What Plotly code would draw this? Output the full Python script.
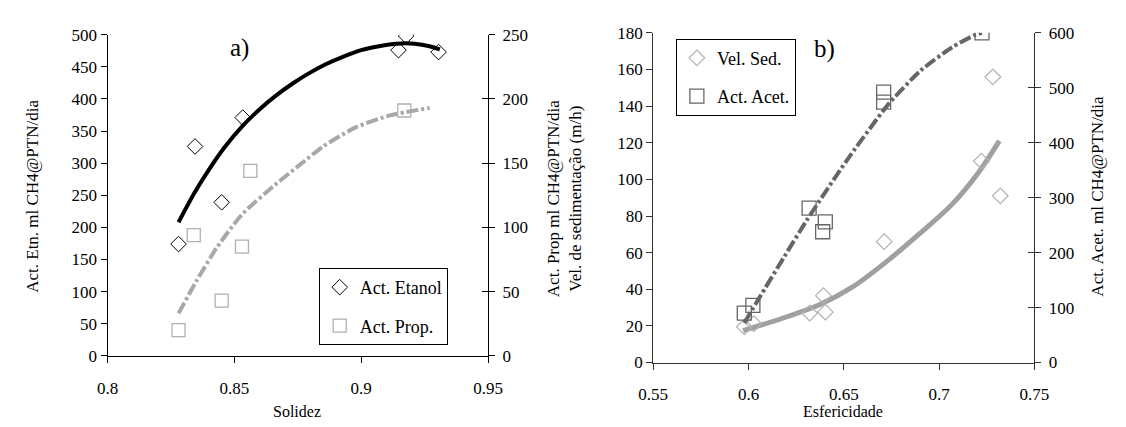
import plotly.graph_objects as go

# ---------- Panel a) data ----------
etanol_x = [0.828, 0.8345, 0.845, 0.8533, 0.9147, 0.9177, 0.9305]
etanol_y = [174, 326, 239, 371, 476, 498, 473]
prop_x = [0.828, 0.834, 0.845, 0.853, 0.8563, 0.917]
prop_y = [20, 94, 43, 85, 144, 191]

etanol_fit_x = [0.828, 0.834, 0.840, 0.846, 0.853, 0.860, 0.866, 0.873, 0.879, 0.886,
                0.893, 0.900, 0.907, 0.914, 0.921, 0.927, 0.931]
etanol_fit_y = [208, 252, 290, 324, 357, 384, 404, 424, 439, 454,
                466, 476, 482, 486, 486, 482, 477]
prop_fit_x = [0.828, 0.835, 0.843, 0.853, 0.866, 0.876, 0.885, 0.898, 0.911, 0.927]
prop_fit_y = [33, 58, 84, 110, 133, 149, 163, 178, 187, 193]

# ---------- Panel b) data ----------
vel_x = [0.5978, 0.6028, 0.6321, 0.6393, 0.6403, 0.6712, 0.7222, 0.7282, 0.7321]
vel_y = [19.5, 21.2, 27, 36.5, 27.5, 66, 110, 156, 91]
acet_x = [0.5978, 0.6023, 0.6318, 0.6389, 0.6403, 0.6709, 0.6709, 0.7225]
acet_y = [90, 104, 281, 238, 256, 492, 474, 600]

vel_fit_x = [0.5972, 0.6202, 0.6372, 0.6542, 0.6729, 0.6899, 0.7069, 0.7205, 0.7316]
vel_fit_y = [17.4, 25.0, 31.5, 41.0, 55.5, 70.5, 86.5, 103.5, 121.0]
acet_fit_x = [0.5978, 0.6057, 0.6185, 0.6304, 0.6508, 0.6729, 0.6899, 0.7069, 0.7188, 0.7225]
acet_fit_y = [72, 118, 191, 258, 364, 468, 530, 574, 596, 600]

FONT = "Liberation Serif, Times New Roman, serif"
W, H = 1126, 427

fig = go.Figure()

# panel a
fig.add_trace(go.Scatter(x=etanol_fit_x, y=etanol_fit_y, mode="lines",
                         line=dict(color="black", width=4, shape="spline", smoothing=0.6),
                         xaxis="x", yaxis="y", showlegend=False, hoverinfo="skip"))
fig.add_trace(go.Scatter(x=prop_fit_x, y=prop_fit_y, mode="lines",
                         line=dict(color="#a8a8a8", width=4, shape="spline", smoothing=0.6,
                                   dash="12px,3px,3px,3px"),
                         xaxis="x", yaxis="y2", showlegend=False, hoverinfo="skip"))
fig.add_trace(go.Scatter(x=etanol_x, y=etanol_y, mode="markers", name="Act. Etanol",
                         marker=dict(symbol="diamond-open", size=12, color="black", line=dict(width=1)),
                         xaxis="x", yaxis="y", legend="legend", legendgroup="g1"))
fig.add_trace(go.Scatter(x=prop_x, y=prop_y, mode="markers", name="Act. Prop.",
                         marker=dict(symbol="square-open", size=13, color="#b0b0b0", line=dict(width=1.3)),
                         xaxis="x", yaxis="y2", legend="legend", legendgroup="g2"))

# panel b
fig.add_trace(go.Scatter(x=vel_fit_x, y=vel_fit_y, mode="lines",
                         line=dict(color="#a0a0a0", width=5, shape="spline", smoothing=1.0),
                         xaxis="x2", yaxis="y3", showlegend=False, hoverinfo="skip"))
fig.add_trace(go.Scatter(x=acet_fit_x, y=acet_fit_y, mode="lines",
                         line=dict(color="#666666", width=4, shape="spline", smoothing=0.6,
                                   dash="12px,3px,3px,3px"),
                         xaxis="x2", yaxis="y4", showlegend=False, hoverinfo="skip"))
fig.add_trace(go.Scatter(x=vel_x, y=vel_y, mode="markers", name="Vel. Sed.",
                         marker=dict(symbol="diamond-open", size=12, color="#b0b0b0", line=dict(width=1.2)),
                         xaxis="x2", yaxis="y3", legend="legend2", legendgroup="g3"))
fig.add_trace(go.Scatter(x=acet_x, y=acet_y, mode="markers", name="Act. Acet.",
                         marker=dict(symbol="square-open", size=14, color="#666666", line=dict(width=1.3)),
                         xaxis="x2", yaxis="y4", legend="legend2", legendgroup="g4"))

# helper empty traces for inside ticks on right axes (ticks crossing the axis)
fig.add_trace(go.Scatter(x=[None], y=[None], xaxis="x", yaxis="y5", showlegend=False, hoverinfo="skip"))
fig.add_trace(go.Scatter(x=[None], y=[None], xaxis="x2", yaxis="y6", showlegend=False, hoverinfo="skip"))

tickfont = dict(family=FONT, size=17, color="black")
common = dict(showgrid=False, zeroline=False, showline=True, linewidth=1, ticks="outside", ticklen=6,
              tickwidth=1, tickfont=tickfont)


def px(x, y):
    return x / W, 1 - y / H


anns = []
for txt, x, y, size, ang in [
    ("a)", 231, 41, 25, 0),
    ("b)", 832, 42, 25, 0),
    ("Solidez", 290, 421, 16, 0),
    ("Esfericidade", 851, 421, 16, 0),
    ("Act. Etn. ml CH4@PTN/dia", 18, 196, 17, -90),
    ("Act. Prop ml CH4@PTN/dia<br>Vel. de sedimentação (m/h)", 564, 198, 17, -90),
    ("Act. Acet. ml CH4@PTN/dia", 1112, 196, 17, -90),
]:
    xx, yy = px(x, y)
    anns.append(dict(text=txt, x=xx, y=yy, xref="paper", yref="paper", showarrow=False,
                     textangle=ang, xanchor="center", yanchor="middle",
                     font=dict(family=FONT, size=size, color="black")))

fig.update_layout(
    width=W, height=H, margin=dict(l=0, r=0, t=0, b=0),
    paper_bgcolor="white", plot_bgcolor="white",
    font=dict(family=FONT, size=17, color="black"),
    xaxis=dict(domain=[0.0844, 0.4316], range=[0.8, 0.95], dtick=0.05, tick0=0.8, anchor="y",
               linecolor="black", tickcolor="black", ticklabelstandoff=11, **common),
    yaxis=dict(domain=[0.150, 0.937], range=[0, 500], dtick=50, anchor="x",
               linecolor="black", tickcolor="black", **common),
    yaxis2=dict(range=[0, 250], dtick=50, overlaying="y", side="right", anchor="x",
                linecolor="black", tickcolor="black", ticklabelstandoff=4, **common),
    yaxis5=dict(range=[0, 250], dtick=50, overlaying="y", side="right", anchor="x", showgrid=False,
                zeroline=False, showline=False, ticks="inside", ticklen=6, tickcolor="black",
                showticklabels=False),
    xaxis2=dict(domain=[0.5823, 0.9301], range=[0.55, 0.75], dtick=0.05, tick0=0.55, anchor="y3",
                linecolor="#333333", tickcolor="#333333", ticklabelstandoff=10, **common),
    yaxis3=dict(domain=[0.1335, 0.9415], range=[0, 180], dtick=20, anchor="x2",
                linecolor="#333333", tickcolor="#333333", **common),
    yaxis4=dict(range=[0, 600], dtick=100, overlaying="y3", side="right", anchor="x2",
                linecolor="#333333", tickcolor="#333333", ticklabelstandoff=4, **common),
    yaxis6=dict(range=[0, 600], dtick=100, overlaying="y3", side="right", anchor="x2", showgrid=False,
                zeroline=False, showline=False, ticks="inside", ticklen=6, tickcolor="#333333",
                showticklabels=False),
    legend=dict(x=0.2771, y=0.3653, xanchor="left", yanchor="top", bordercolor="black", borderwidth=1,
                bgcolor="white", font=dict(family=FONT, size=18), itemwidth=30, tracegroupgap=12),
    legend2=dict(x=0.603, y=0.9274, xanchor="left", yanchor="top", bordercolor="black", borderwidth=1,
                 bgcolor="white", font=dict(family=FONT, size=18), itemwidth=30, tracegroupgap=12),
    annotations=anns,
)

fig.write_html("out.html")
